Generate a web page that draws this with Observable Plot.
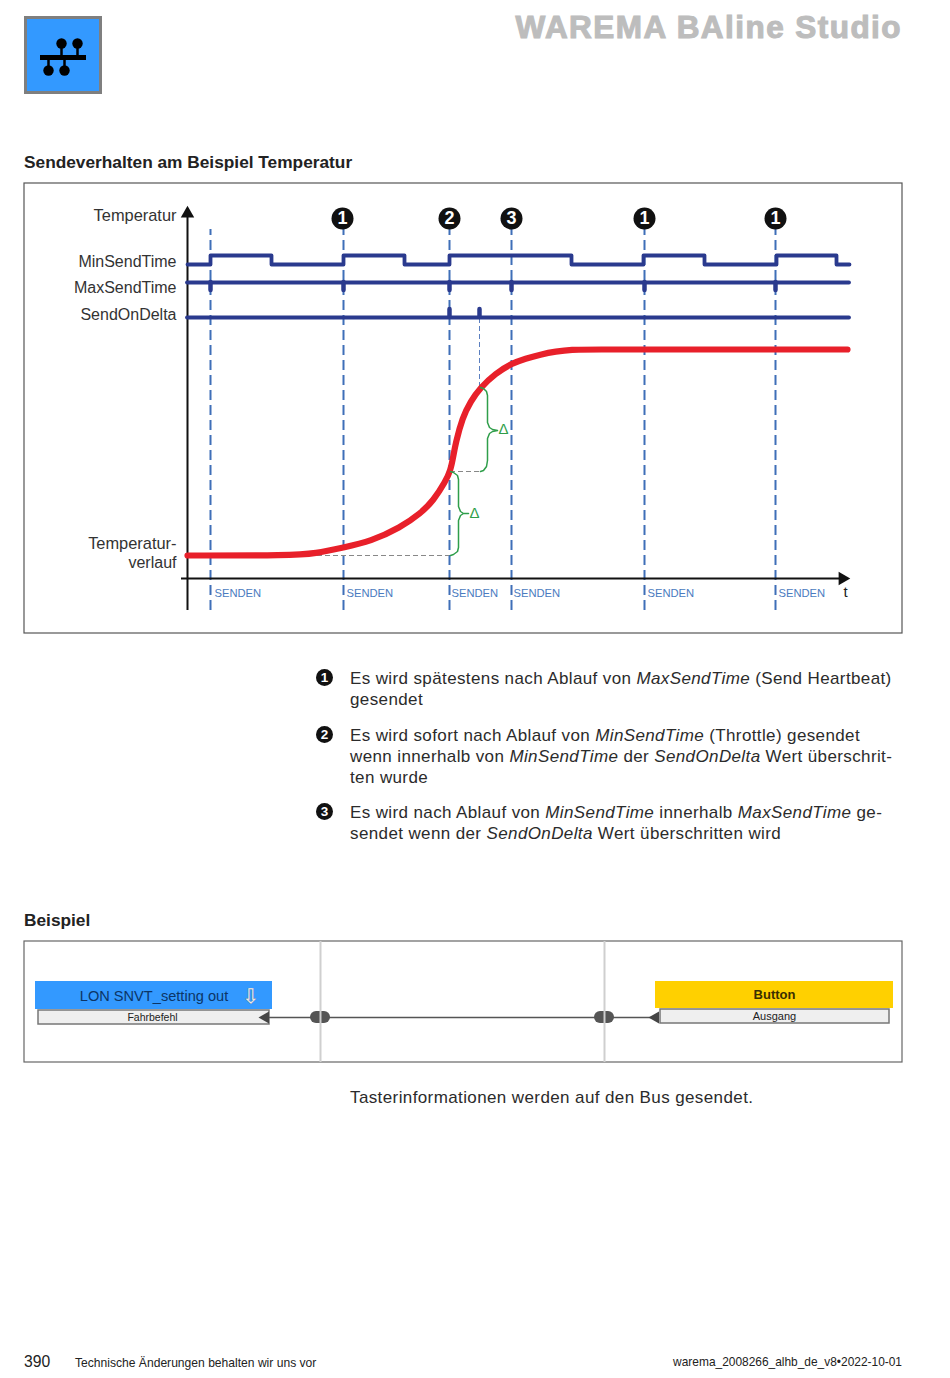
<!DOCTYPE html>
<html lang="de">
<head>
<meta charset="utf-8">
<script src="https://cdn.jsdelivr.net/npm/d3@7"></script>
<script src="https://cdn.jsdelivr.net/npm/@observablehq/plot@0.6"></script>
<style>
html,body{margin:0;padding:0;background:#fff;width:950px;height:1378px;overflow:hidden}
body{position:relative;font-family:"Liberation Sans",Arial,sans-serif;color:#2b2b2b}
.t{position:absolute;white-space:nowrap;line-height:1}
.abs{position:absolute}
.abs svg{display:block;overflow:visible}
.bullet{position:absolute;width:17px;height:17px;border-radius:50%;background:#111;color:#fff;font-size:13.5px;font-weight:bold;text-align:center;line-height:17px}
i{font-style:italic}
</style>
</head>
<body>
<div id="root"></div>
<script>
// ---------- chart data (t = time units from the axis origin, temp = height above the time axis)
const sendTimes = [23, 156, 262, 324, 457, 588];
const sendLabelTimes = [27, 159, 264, 326, 460, 591];
const sendLabel = "SENDEN";
const markerTimes = [155, 262, 324, 457, 588];
const markerNumbers = ["1", "2", "3", "1", "1"];
const tempT = [0, 103, 128, 156, 183, 213, 233, 246, 258, 263, 266, 268, 275, 283, 293, 308, 324, 338, 353, 368, 385, 400, 500, 660];
const tempV = [23, 23, 25, 31, 37, 51, 65, 78, 97, 108, 123, 135, 161, 177, 191, 205, 215, 220, 224, 227, 229, 229, 229, 229];
const minT = [0, 23, 84, 156, 217, 262, 384, 456, 517, 589, 649, 662];
const minV = [314, 323, 314, 323, 314, 323, 314, 323, 314, 323, 314, 314];
const deltaTickT = [262, 292];
const rowNames = ["Temperatur", "MinSendTime", "MaxSendTime", "SendOnDelta", "Temperatur-", "verlauf"];
const rowValues = [363, 317, 291, 264, 35, 16];
const rowSizes = [16.4, 16, 16, 16, 16.4, 16];
const brace1T = [263, 266, 270, 271, 271, 271, 273, 276, 281, 276, 273, 271, 271, 271, 270, 266, 263];
const brace1V = [107, 106, 103, 99, 85, 72, 67, 65, 65, 65, 63, 58, 45, 31, 27, 24, 23];
const brace2T = [293, 296, 299, 300, 300, 300, 302, 305, 310, 305, 302, 300, 300, 300, 299, 296, 293];
const brace2V = [191, 190, 187, 183, 170, 156, 151, 149, 148, 147, 145, 140, 127, 118, 112, 108, 107];
// ---------- lower diagram
const blockNames = ["LON SNVT_setting out", "Button"];
const portNames = ["Fahrbefehl", "Ausgang"];
// ---------- text
const legendRows = [
  ["1", 678, ["Es wird spätestens nach Ablauf von <i>MaxSendTime</i> (Send Heartbeat)", "gesendet"]],
  ["2", 735, ["Es wird sofort nach Ablauf von <i>MinSendTime</i> (Throttle) gesendet", "wenn innerhalb von <i>MinSendTime</i> der <i>SendOnDelta</i> Wert überschrit-", "ten wurde"]],
  ["3", 812, ["Es wird nach Ablauf von <i>MinSendTime</i> innerhalb <i>MaxSendTime</i> ge-", "sendet wenn der <i>SendOnDelta</i> Wert überschritten wird"]]
];

const root = document.getElementById("root");
function text(html, cy, size, o = {}) {
  const d = document.createElement("div");
  d.className = "t";
  d.innerHTML = html;
  d.style.fontSize = size + "px";
  d.style.top = (cy - size / 2) + "px";
  if (o.right != null) d.style.right = (950 - o.right) + "px"; else d.style.left = o.left + "px";
  if (o.bold) d.style.fontWeight = "bold";
  if (o.color) d.style.color = o.color;
  if (o.ls) d.style.letterSpacing = o.ls + "px";
  if (o.css) d.style.cssText += o.css;
  root.appendChild(d);
}
function place(svg, left, top) {
  const d = document.createElement("div");
  d.className = "abs";
  d.style.left = left + "px";
  d.style.top = top + "px";
  d.appendChild(svg);
  root.appendChild(d);
}
const rows = (a, b) => a.map((v, i) => ({a: v, b: b[i]}));
const navy = "#2a3a8e", blue = "#3f6fb8", green = "#2f9e4a";

// ---------- icon
const busUp = [21, 37], busDown = [8, 24];
place(Plot.plot({
  width: 78, height: 78, margin: 0,
  x: {domain: [0, 78], range: [0, 78], axis: null},
  y: {domain: [0, 78], range: [0, 78], axis: null},
  style: {background: "transparent"},
  marks: [
    Plot.rect([0], {x1: 1.5, x2: 76.5, y1: 1.5, y2: 76.5, fill: "#3399ff", stroke: "#7f7f7f", strokeWidth: 3}),
    Plot.ruleX(busUp, {x: d => d + 16, y1: 27, y2: 41, stroke: "#000", strokeWidth: 2.5}),
    Plot.ruleX(busDown, {x: d => d + 16, y1: 41, y2: 54, stroke: "#000", strokeWidth: 2.5}),
    Plot.ruleY([41], {x1: 16, x2: 62, stroke: "#000", strokeWidth: 5}),
    Plot.dot(busUp, {x: d => d + 16, y: 27, r: 5.2, fill: "#000"}),
    Plot.dot(busDown, {x: d => d + 16, y: 54, r: 5.2, fill: "#000"})
  ]
}), 24, 16);

// ---------- headings
text("WAREMA BAline Studio", 28, 31.5, {right: 902, bold: true, color: "#bdbdbd", ls: 1.45, css: "-webkit-text-stroke:1.1px #bdbdbd"});
text("Sendeverhalten am Beispiel Temperatur", 163, 17.3, {left: 24, bold: true, color: "#222"});

// ---------- main chart
place(Plot.plot({
  width: 878, height: 450, margin: 0,
  x: {domain: [-163, 715], range: [0, 878], axis: null},
  y: {domain: [-55, 395], range: [450, 0], axis: null},
  style: {background: "transparent", fontFamily: "'Liberation Sans',Arial,sans-serif"},
  marks: [
    Plot.rect([0], {x1: -163, x2: 715, y1: -55, y2: 395, fill: "none", stroke: "#555", strokeWidth: 1.2}),
    // send lines
    Plot.ruleX(sendTimes, {y1: -32, y2: 349, stroke: blue, strokeWidth: 2, strokeDasharray: "10 5"}),
    // thin helper lines
    Plot.ruleX([deltaTickT[1]], {y1: 191, y2: 261, stroke: "#5b7fc0", strokeWidth: 1, strokeDasharray: "5 3"}),
    Plot.ruleY([23], {x1: 130, x2: 262, stroke: "#888", strokeWidth: 1, strokeDasharray: "5 3"}),
    Plot.ruleY([107], {x1: 263, x2: 293, stroke: "#888", strokeWidth: 1, strokeDasharray: "5 3"}),
    // axes
    Plot.ruleX([0], {y1: -32, y2: 365, stroke: "#111", strokeWidth: 2}),
    Plot.ruleY([0], {x1: -6, x2: 652, stroke: "#111", strokeWidth: 2}),
    Plot.dot([0], {x: 0, y: 365, symbol: "triangle", r: 5, fill: "#111", stroke: "none"}),
    Plot.dot([0], {x: 655, y: 0, symbol: "triangle", r: 5, rotate: 90, fill: "#111", stroke: "none"}),
    // timing rows
    Plot.line(rows(minT, minV), {x: "a", y: "b", curve: "step-after", stroke: navy, strokeWidth: 3.8, strokeLinejoin: "round", strokeLinecap: "round"}),
    Plot.ruleY([296], {x1: 0, x2: 662, stroke: navy, strokeWidth: 3.8, strokeLinecap: "round"}),
    Plot.ruleX(sendTimes, {y1: 296, y2: 288, stroke: navy, strokeWidth: 4.5, strokeLinecap: "round"}),
    Plot.ruleY([261], {x1: 0, x2: 662, stroke: navy, strokeWidth: 3.8, strokeLinecap: "round"}),
    Plot.ruleX(deltaTickT, {y1: 261, y2: 269, stroke: navy, strokeWidth: 4.5, strokeLinecap: "round"}),
    // temperature
    Plot.line(rows(tempT, tempV), {x: "a", y: "b", curve: "basis", stroke: "#e8202a", strokeWidth: 6.2, strokeLinecap: "round"}),
    // braces
    Plot.line(rows(brace1T, brace1V), {x: "a", y: "b", curve: "linear", stroke: green, strokeWidth: 1.5, strokeLinejoin: "round"}),
    Plot.line(rows(brace2T, brace2V), {x: "a", y: "b", curve: "linear", stroke: green, strokeWidth: 1.5, strokeLinejoin: "round"}),
    Plot.text(["Δ", "Δ"], {x: [287, 316], y: [65, 149], text: d => d, fill: green, fontSize: 15}),
    // markers
    Plot.dot(markerTimes, {x: d => d, y: 360, r: 11, fill: "#111", stroke: "none"}),
    Plot.text(markerTimes, {x: d => d, y: 360, text: (d, i) => markerNumbers[i], fill: "#fff", fontWeight: "bold", fontSize: 18}),
    // labels
    Plot.text(rowNames, {x: -11, y: (d, i) => rowValues[i], text: d => d, textAnchor: "end", fill: "#333", fontSize: (d, i) => rowSizes[i]}),
    Plot.text(sendLabelTimes, {x: d => d, y: -15, text: () => sendLabel, textAnchor: "start", fill: "#4a7bc0", fontSize: 11.2}),
    Plot.text(["t"], {x: 658, y: -14, text: d => d, fill: "#222", fontSize: 15})
  ]
}), 24, 183);

// ---------- numbered notes
for (const [n, y0, lines] of legendRows) {
  const b = document.createElement("div");
  b.className = "bullet";
  b.textContent = n;
  b.style.left = "316px";
  b.style.top = (y0 - 9) + "px";
  root.appendChild(b);
  lines.forEach((l, i) => text(l, y0 + i * 21, 17, {left: 350, ls: 0.38, color: "#2b2b2b"}));
}

// ---------- example
text("Beispiel", 921, 17.3, {left: 24, bold: true, color: "#222"});
place(Plot.plot({
  width: 878, height: 121, margin: 0,
  x: {domain: [0, 878], range: [0, 878], axis: null},
  y: {domain: [0, 121], range: [0, 121], axis: null},
  style: {background: "transparent", fontFamily: "'Liberation Sans',Arial,sans-serif"},
  marks: [
    Plot.rect([0], {x1: 0, x2: 878, y1: 0, y2: 121, fill: "none", stroke: "#666", strokeWidth: 1.2}),
    Plot.rect([0], {x1: 11, x2: 248, y1: 40, y2: 68, fill: "#3399ff"}),
    Plot.rect([0], {x1: 631, x2: 869, y1: 40, y2: 67, fill: "#ffd000"}),
    Plot.rect([0], {x1: 14, x2: 245, y1: 69, y2: 83, fill: "#efefef", stroke: "#777", strokeWidth: 1.5}),
    Plot.rect([0], {x1: 636, x2: 865, y1: 68, y2: 82, fill: "#efefef", stroke: "#777", strokeWidth: 1.5}),
    Plot.ruleY([76], {x1: 245, x2: 631, stroke: "#555", strokeWidth: 1.6}),
    Plot.rect([286, 570], {x1: d => d, x2: d => d + 20, y1: 70, y2: 82, rx: 6, fill: "#555"}),
    Plot.ruleX([296, 580], {y1: 0, y2: 121, stroke: "#cfcfcf", strokeWidth: 2}),
    Plot.dot([241, 631], {x: d => d, y: 76, symbol: "triangle", r: 4.5, rotate: -90, fill: "#444", stroke: "none"}),
    Plot.text([blockNames[0]], {x: 129.5, y: 55, text: d => d, fill: "#0c3566", fontSize: 14.6}),
    Plot.text(["⇩"], {x: 226, y: 55, text: d => d, fill: "#eeeeee", stroke: "#777", strokeWidth: 0.5, fontSize: 20, fontFamily: "DejaVu Sans"}),
    Plot.text([blockNames[1]], {x: 750, y: 53, text: d => d, fill: "#3a2f00", fontSize: 13, fontWeight: "bold"}),
    Plot.text([portNames[0]], {x: 128, y: 76, text: d => d, fill: "#222", fontSize: 10.5}),
    Plot.text([portNames[1]], {x: 750, y: 75, text: d => d, fill: "#222", fontSize: 11})
  ]
}), 24, 941);
text("Tasterinformationen werden auf den Bus gesendet.", 1097, 17, {left: 350, ls: 0.39});

// ---------- footer
text("390", 1362, 15.7, {left: 24, color: "#222"});
text("Technische Änderungen behalten wir uns vor", 1363, 12.1, {left: 75, color: "#222"});
text("warema_2008266_alhb_de_v8•2022-10-01", 1363, 11.93, {right: 902, color: "#222"});
</script>
</body>
</html>
